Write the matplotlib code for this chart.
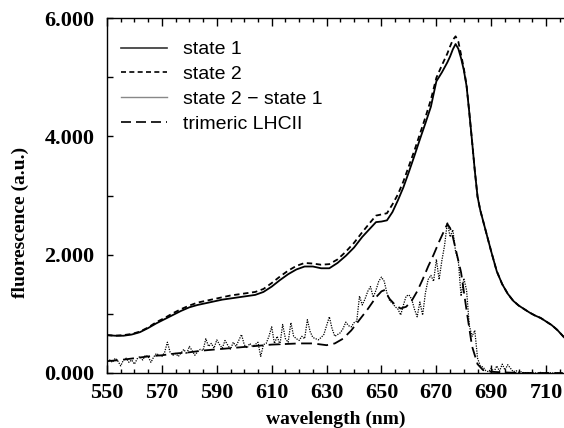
import matplotlib
matplotlib.use("Agg")
import matplotlib.pyplot as plt
from matplotlib.ticker import MultipleLocator, FixedLocator, FixedFormatter

# ---------------- data ----------------
wl_state = [550, 553, 556, 559, 562, 565, 568, 571, 574, 577, 580, 583, 586, 589, 592,
            595, 598, 601, 604, 607, 610, 613, 616, 619, 622, 625, 628, 631, 634, 637,
            640, 643, 646, 648, 650, 652, 654, 656, 658, 660, 662, 664, 666, 668, 670,
            672, 674, 675, 676, 677, 678, 679, 680, 681, 682, 683, 684, 685, 686, 688,
            690, 692, 694, 696, 698, 700, 702, 704, 706, 708, 710, 712, 714, 716, 717]
state1 = [0.64, 0.63, 0.63, 0.65, 0.69, 0.76, 0.84, 0.91, 0.98, 1.05, 1.11, 1.15, 1.18, 1.21, 1.24,
          1.26, 1.28, 1.30, 1.32, 1.37, 1.46, 1.57, 1.67, 1.75, 1.80, 1.80, 1.77, 1.77, 1.86, 1.98,
          2.12, 2.30, 2.45, 2.55, 2.56, 2.58, 2.72, 2.92, 3.14, 3.40, 3.67, 3.95, 4.22, 4.50, 4.93,
          5.08, 5.25, 5.35, 5.47, 5.56, 5.48, 5.32, 5.12, 4.85, 4.40, 3.92, 3.42, 2.98, 2.75, 2.40,
          2.05, 1.72, 1.50, 1.34, 1.22, 1.14, 1.08, 1.02, 0.97, 0.93, 0.87, 0.81, 0.73, 0.63, 0.58]
state2 = [0.64, 0.63, 0.64, 0.66, 0.70, 0.77, 0.86, 0.93, 1.01, 1.08, 1.14, 1.19, 1.22, 1.25, 1.28,
          1.31, 1.33, 1.35, 1.37, 1.42, 1.52, 1.63, 1.73, 1.81, 1.86, 1.85, 1.83, 1.84, 1.92, 2.05,
          2.20, 2.38, 2.55, 2.66, 2.68, 2.70, 2.85, 3.02, 3.24, 3.50, 3.76, 4.04, 4.32, 4.62, 4.99,
          5.20, 5.40, 5.52, 5.63, 5.69, 5.60, 5.38, 5.15, 4.86, 4.40, 3.92, 3.42, 2.98, 2.75, 2.40,
          2.05, 1.72, 1.50, 1.34, 1.22, 1.14, 1.08, 1.02, 0.97, 0.93, 0.87, 0.81, 0.73, 0.63, 0.58]

wl_diff = list(range(550, 717))
diff = [0.20, 0.22, 0.18, 0.25, 0.20, 0.12, 0.22, 0.25, 0.18, 0.22,   # 550-559
        0.15, 0.24, 0.28, 0.22, 0.30, 0.28, 0.18, 0.27, 0.33, 0.30,   # 560-569
        0.28, 0.35, 0.52, 0.35, 0.30, 0.33, 0.28, 0.34, 0.40, 0.32,   # 570-579
        0.45, 0.38, 0.30, 0.36, 0.40, 0.38, 0.58, 0.45, 0.50, 0.42,   # 580-589
        0.56, 0.48, 0.42, 0.55, 0.47, 0.40, 0.52, 0.45, 0.55, 0.65,   # 590-599
        0.48, 0.42, 0.50, 0.45, 0.48, 0.52, 0.28, 0.48, 0.50, 0.62,   # 600-609
        0.78, 0.50, 0.62, 0.48, 0.82, 0.58, 0.52, 0.85, 0.62, 0.58,   # 610-619
        0.55, 0.62, 0.58, 0.90, 0.70, 0.60, 0.58, 0.56, 0.60, 0.65,   # 620-629
        0.80, 0.95, 0.75, 0.62, 0.65, 0.68, 0.75, 0.86, 0.80, 0.78,   # 630-639
        0.85, 0.88, 1.30, 1.15, 1.25, 1.38, 1.46, 1.28, 1.40, 1.55,   # 640-649
        1.62, 1.55, 1.35, 1.22, 1.18, 1.12, 1.08, 0.98, 1.15, 1.30,   # 650-659
        1.32, 1.25, 1.08, 0.95, 1.20, 0.98, 1.35, 1.58, 1.65, 1.55,   # 660-669
        1.92, 1.58, 1.90, 2.16, 2.55, 2.30, 2.42, 2.05, 1.90, 1.30,   # 670-679
        1.60, 1.40, 0.80, 0.62, 0.72, 0.25, 0.12, 0.10, 0.04, 0.02,   # 680-689
        0.08, 0.02, 0.12, 0.03, 0.15, 0.05, 0.14, 0.08, 0.02, 0.04,   # 690-699
        0.01, 0.02, 0.00, 0.01, 0.00, 0.01, 0.00, 0.00, 0.01, 0.00,   # 700-709
        0.00, 0.01, 0.00, 0.00, 0.00, 0.00, 0.00]                     # 710-716

wl_lhc = [550, 555, 560, 565, 570, 575, 580, 585, 590, 595, 600, 605, 610, 615, 620, 625,
          630, 633, 636, 639, 642, 645, 648, 650, 651, 653, 655, 657, 659, 661, 663, 665,
          667, 669, 671, 673, 674, 675, 676, 677, 679, 681, 683, 685, 687, 690, 700, 716]
lhc = [0.20, 0.22, 0.25, 0.28, 0.30, 0.33, 0.35, 0.38, 0.40, 0.42, 0.44, 0.46, 0.48, 0.49, 0.50, 0.50,
       0.47, 0.50, 0.58, 0.72, 0.90, 1.08, 1.28, 1.38, 1.40, 1.25, 1.15, 1.09, 1.12, 1.22, 1.38, 1.58,
       1.80, 2.00, 2.22, 2.42, 2.52, 2.45, 2.30, 2.10, 1.70, 1.06, 0.45, 0.15, 0.05, 0.02, 0.00, 0.00]

labels = ["state 1", "state 2", "state 2 \u2212 state 1", "trimeric LHCII"]
xticks = [550, 570, 590, 610, 630, 650, 670, 690, 710]
yticks = [0, 2, 4, 6]
ytick_labels = ["0.000", "2.000", "4.000", "6.000"]

# ---------------- figure ----------------
fig = plt.figure(figsize=(5.64, 4.28), dpi=100)
ax = fig.add_axes([107 / 564, 1 - 373 / 428, 1 - 107 / 564, (373 - 18) / 428])

ax.plot(wl_state, state1, color="black", lw=1.3, label=labels[0])
ax.plot(wl_state, state2, color="black", lw=1.3, linestyle=(0, (3, 2)), label=labels[1])
ax.plot(wl_diff, diff, color="black", lw=0.9, linestyle=(0, (1, 1)), label=labels[2])
ax.plot(wl_lhc, lhc, color="black", lw=1.3, linestyle=(0, (6, 3)), label=labels[3])

ax.set_xlim(550, 716.5)
ax.set_ylim(0, 6)

serif = ["Liberation Serif", "DejaVu Serif"]
ax.xaxis.set_major_locator(FixedLocator(xticks))
ax.xaxis.set_minor_locator(MultipleLocator(5))
ax.yaxis.set_major_locator(FixedLocator(yticks))
ax.yaxis.set_major_formatter(FixedFormatter(ytick_labels))
ax.yaxis.set_minor_locator(MultipleLocator(1))

ax.tick_params(axis="x", which="major", direction="in", length=6, width=1, top=True, pad=7)
ax.tick_params(axis="x", which="minor", direction="in", length=3, width=1, top=True)
ax.tick_params(axis="y", which="both", direction="in", length=4, width=1, right=False, pad=9)
for lab in ax.get_xticklabels() + ax.get_yticklabels():
    lab.set_fontfamily(serif)
    lab.set_fontweight("bold")
    lab.set_fontsize(16)

ax.spines["right"].set_visible(False)
for s in ["left", "bottom", "top"]:
    ax.spines[s].set_linewidth(1.0)

ax.set_xlabel("wavelength (nm)", fontfamily=serif, fontweight="bold", fontsize=14, labelpad=6)
ax.set_ylabel("fluorescence (a.u.)", fontfamily=serif, fontweight="bold", fontsize=14)
ax.yaxis.set_label_coords(-0.171, 0.425)

leg = ax.legend(loc="upper left", bbox_to_anchor=(0.03, 0.936), frameon=False,
                prop={"family": "Liberation Sans", "size": 14}, handlelength=2.4,
                handletextpad=0.8, labelspacing=0.37, borderpad=0, borderaxespad=0)
handles = leg.get_lines()
for h in handles:
    h.set_linewidth(1.2)
handles[0].set_color("#333333")
handles[2].set_linestyle("-")
handles[2].set_color("#888888")
handles[2].set_linewidth(1.0)

fig.savefig("out.png", dpi=100)
